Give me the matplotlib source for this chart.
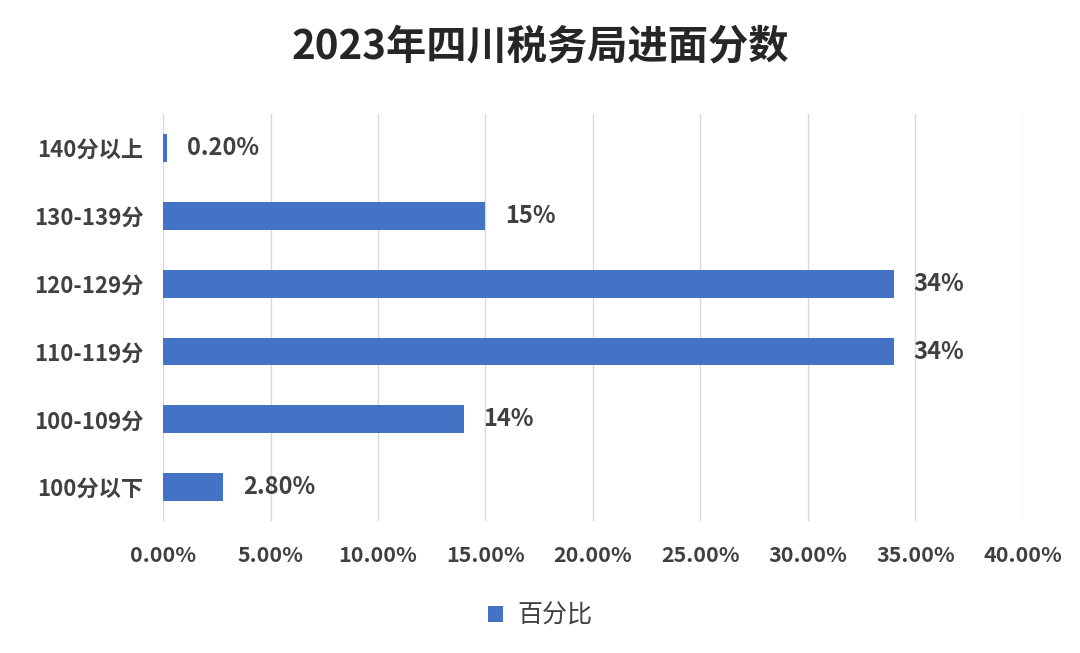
import matplotlib
matplotlib.use("Agg")
import matplotlib.pyplot as plt
from matplotlib.ticker import FuncFormatter, MultipleLocator

plt.rcParams['font.family'] = ['Noto Sans CJK SC', 'DejaVu Sans']

categories = ['100分以下', '100-109分', '110-119分', '120-129分', '130-139分', '140分以上']
values = [2.8, 14, 34, 34, 15, 0.2]
value_labels = ['2.80%', '14%', '34%', '34%', '15%', '0.20%']
title = '2023年四川税务局进面分数'
legend_label = '百分比'

bar_color = '#4472C4'
text_color = '#404040'

fig = plt.figure(figsize=(10.8, 6.53), dpi=100)
ax = fig.add_axes([0.151, 0.202, 0.796, 0.623])

y = range(len(categories))
ax.barh(y, values, height=0.41, color=bar_color, label=legend_label, zorder=3)

for yi, v, lab in zip(y, values, value_labels):
    ax.annotate(lab, (v, yi), xytext=(14, 0), textcoords='offset points',
                ha='left', va='center', fontsize=17, fontweight='bold',
                color=text_color, zorder=4)

ax.set_xlim(0, 40)
ax.set_ylim(-0.5, len(categories) - 0.5)
ax.xaxis.set_major_locator(MultipleLocator(5))
ax.xaxis.set_major_formatter(FuncFormatter(lambda x, p: f'{x:.2f}%'))
ax.set_yticks(list(y))
ax.set_yticklabels(categories)

ax.grid(axis='x', color='#d9d9d9', linewidth=1.0, zorder=0)
for s in ax.spines.values():
    s.set_visible(False)
ax.tick_params(axis='both', length=0, colors=text_color)
ax.tick_params(axis='x', pad=17, labelsize=15.5)
ax.tick_params(axis='y', pad=14, labelsize=16)
for lab in ax.get_xticklabels() + ax.get_yticklabels():
    lab.set_fontweight('bold')
    lab.set_color(text_color)

fig.text(0.5, 0.928, title, ha='center', va='center', fontsize=29,
         fontweight='bold', color='#262626')

leg = fig.legend(loc='center', bbox_to_anchor=(0.5, 0.057), frameon=False,
                 fontsize=18, handlelength=0.6, handleheight=0.6,
                 handletextpad=0.6)
for t in leg.get_texts():
    t.set_color(text_color)

fig.savefig('out.png', dpi=100, facecolor='white')
